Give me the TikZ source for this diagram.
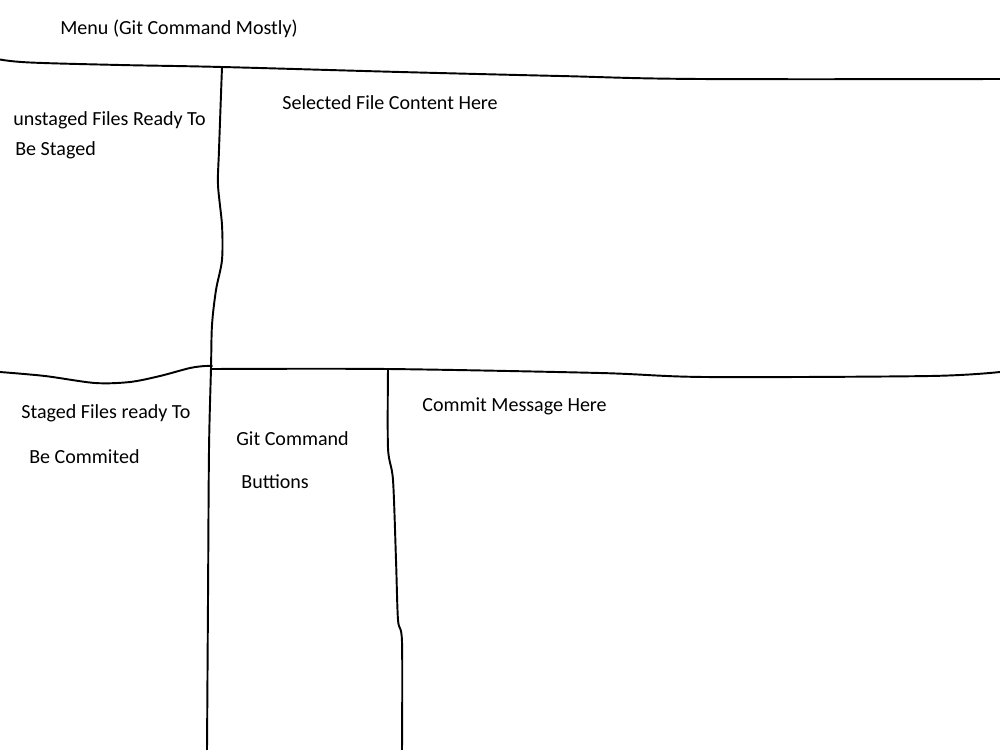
\documentclass[tikz,border=0pt]{standalone}
\usepackage{fontspec}
\setmainfont{Carlito}
\begin{document}
\begin{tikzpicture}[x=0.02cm,y=-0.02cm,
  sketch/.style={line width=1.1pt,line join=round,line cap=round},
  lbl/.style={anchor=west,inner sep=0pt,font=\fontsize{11.4}{13.7}\selectfont}]
\useasboundingbox (0,0) rectangle (1000,750);
% labels
\node[lbl] (menu) at (60,28.5) {Menu (Git Command Mostly)};
\node[lbl] (unst1) at (13,120.5) {unstaged Files Ready To};
\node[lbl] (unst2) at (15,150.5) {Be Staged};
\node[lbl] (sel) at (282,102.5) {Selected File Content Here};
\node[lbl] (stg1) at (21,413.5) {Staged Files ready To};
\node[lbl] (stg2) at (29,456.5) {Be Commited};
\node[lbl] (git1) at (236,438.5) {Git Command};
\node[lbl] (git2) at (241,481.5) {Buttions};
\node[lbl] (cm) at (422,406.5) {Commit Message Here};
% top horizontal
\draw[sketch] plot[smooth,tension=0.6] coordinates {(0,59.5) (30,62.5) (120,65) (222,67) (400,72) (560,76) (700,79) (1000,79)};
% left vertical
\draw[sketch] plot[smooth,tension=0.5] coordinates {(222,67) (219,150) (218,185) (222,225) (222,260) (216,290) (212,325) (211,368) (209,450) (208,600) (207,750)};
% middle horizontal, left part
\draw[sketch] plot[smooth,tension=0.5] coordinates {(0,372) (45,376) (95,383) (130,382) (160,376) (190,368) (205,366) (212,366)};
% middle horizontal, right part
\draw[sketch] plot[smooth,tension=0.5] coordinates {(212,369) (388,369) (600,373) (705,377) (930,376) (1000,372)};
% second vertical
\draw[sketch] plot[smooth,tension=0.5] coordinates {(388,369) (388,448) (393,480) (396,560) (398,620) (402,642) (402,750)};
\end{tikzpicture}
\end{document}
